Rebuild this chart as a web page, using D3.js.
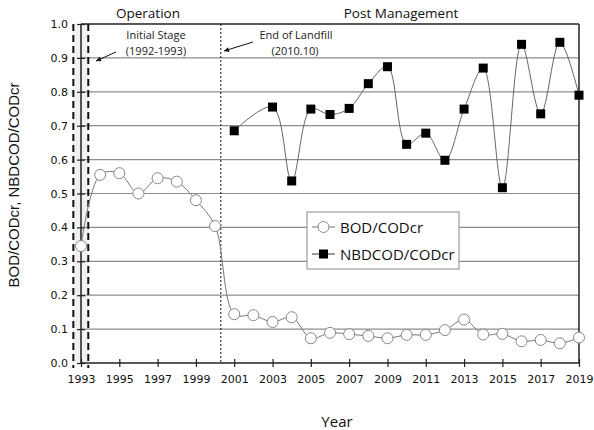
<!DOCTYPE html>
<html><head><meta charset="utf-8">
<script src="https://cdn.jsdelivr.net/npm/d3@7"></script>
<style>body{margin:0;background:#fff}svg{display:block}</style>
</head><body><svg id="c" width="594" height="430"></svg>
<script>
const bodYears = d3.range(1993, 2020);
const bodValues = [0.345,0.555,0.560,0.500,0.545,0.535,0.480,0.404,0.144,0.141,0.121,0.135,0.073,0.089,0.085,0.080,0.073,0.083,0.083,0.097,0.128,0.084,0.086,0.064,0.068,0.058,0.075];
const nbdYears = [2001,2003,2004,2005,2006,2007,2008,2009,2010,2011,2012,2013,2014,2015,2016,2017,2018,2019];
const nbdValues = [0.685,0.755,0.537,0.749,0.733,0.751,0.824,0.874,0.645,0.678,0.598,0.749,0.870,0.517,0.940,0.735,0.946,0.790];
const xTicks = d3.range(1993, 2020, 2);
const yTicks = d3.range(0, 11).map(d => d / 10);
const initialStage = [1992.6, 1993.38];
const endLandfill = 2000.3;

const svg = d3.select("#c");
const x = d3.scaleLinear().domain([1993, 2019]).range([81, 579]);
const y = d3.scaleLinear().domain([0, 1]).range([363, 24]);
const tickFont = "'DejaVu Sans', sans-serif";
const textFont = "'Open Sans', sans-serif";

// shaded initial stage
svg.append("rect").attr("x", x(initialStage[0])).attr("y", y(1)).attr("width", x(initialStage[1]) - x(initialStage[0])).attr("height", y(0) - y(1)).attr("fill", "#f1f1f1");

// gridlines
svg.append("g").selectAll("line").data(yTicks.filter(d => d > 0 && d < 1)).join("line")
  .attr("x1", x(1993)).attr("x2", x(2019)).attr("y1", d => y(d)).attr("y2", d => y(d))
  .attr("stroke", "#8c8c8c").attr("stroke-width", 1.2);

// frame top & right
svg.append("line").attr("x1", x(1993)).attr("x2", x(2019)).attr("y1", y(1)).attr("y2", y(1)).attr("stroke", "#222").attr("stroke-width", 1.5);
svg.append("line").attr("x1", x(2019)).attr("x2", x(2019)).attr("y1", y(1)).attr("y2", y(0)).attr("stroke", "#222").attr("stroke-width", 1.5);

// axes
const xAxis = svg.append("g").attr("transform", `translate(0,${y(0)})`)
  .call(d3.axisBottom(x).tickValues(xTicks).tickFormat(d3.format("d")).tickSize(4).tickPadding(8));
xAxis.selectAll(".tick line").attr("y1", -4).attr("y2", 4);
const yAxis = svg.append("g").attr("transform", `translate(${x(1993)},0)`)
  .call(d3.axisLeft(y).tickValues(yTicks).tickFormat(d3.format(".1f")).tickSize(4).tickPadding(9));
yAxis.selectAll(".tick line").attr("x1", -4).attr("x2", 4);
[xAxis, yAxis].forEach(a => {
  a.select(".domain").attr("stroke", "#222").attr("stroke-width", 1.5);
  a.selectAll(".tick line").attr("stroke", "#222").attr("stroke-width", 1.2);
  a.selectAll("text").attr("font-family", tickFont).attr("font-size", 11).attr("fill", "#111");
});
yAxis.select(".domain").attr("d", `M0,${y(1)}V${y(0)}`);
xAxis.select(".domain").attr("d", `M0,0H${x(2019) - x(1993)}`).attr("transform", `translate(${x(1993)},0)`);

// initial stage dashed lines
svg.append("g").selectAll("line").data(initialStage).join("line")
  .attr("x1", d => x(d)).attr("x2", d => x(d)).attr("y1", y(1)).attr("y2", y(0) + 5)
  .attr("stroke", "#111").attr("stroke-width", 2).attr("stroke-dasharray", "7,4");
// end of landfill dotted line
svg.append("line").attr("x1", x(endLandfill)).attr("x2", x(endLandfill)).attr("y1", y(1)).attr("y2", y(0))
  .attr("stroke", "#111").attr("stroke-width", 1).attr("stroke-dasharray", "2,2");

// arrows
const defs = svg.append("defs");
defs.append("marker").attr("id", "ah").attr("viewBox", "0 0 10 10").attr("refX", 10).attr("refY", 5)
  .attr("markerWidth", 7).attr("markerHeight", 5).attr("orient", "auto")
  .append("path").attr("d", "M0,0L10,5L0,10z").attr("fill", "#111");
svg.append("line").attr("x1", 116).attr("y1", 52).attr("x2", 96).attr("y2", 61).attr("stroke", "#111").attr("stroke-width", 1).attr("marker-end", "url(#ah)");
svg.append("line").attr("x1", 253).attr("y1", 42).attr("x2", 224).attr("y2", 51).attr("stroke", "#111").attr("stroke-width", 1).attr("marker-end", "url(#ah)");

// annotation texts
const ann = [
  ["Initial Stage", 156, 39], ["(1992-1993)", 156, 55],
  ["End of Landfill", 296, 39], ["(2010.10)", 295, 55]
];
svg.append("g").selectAll("text").data(ann).join("text")
  .attr("x", d => d[1]).attr("y", d => d[2]).attr("text-anchor", "middle")
  .attr("font-family", textFont).attr("font-size", 11).attr("fill", "#222").text(d => d[0]);
svg.append("text").attr("x", 148).attr("y", 18).attr("text-anchor", "middle").attr("font-family", textFont).attr("font-size", 13.5).attr("fill", "#111").text("Operation");
svg.append("text").attr("x", 401).attr("y", 18).attr("text-anchor", "middle").attr("font-family", textFont).attr("font-size", 13.5).attr("fill", "#111").text("Post Management");
svg.append("text").attr("x", 337).attr("y", 427).attr("text-anchor", "middle").attr("font-family", textFont).attr("font-size", 15).attr("fill", "#111").text("Year");
svg.append("text").attr("transform", "translate(19,185) rotate(-90)").attr("text-anchor", "middle").attr("font-family", "'Liberation Sans', Arial, sans-serif").attr("font-size", 15).attr("fill", "#111").text("BOD/CODcr, NBDCOD/CODcr");

// series
const curve = d3.curveCatmullRom.alpha(0.5);
const bod = bodYears.map((yr, i) => [yr, bodValues[i]]);
const nbd = nbdYears.map((yr, i) => [yr, nbdValues[i]]);
const line = d3.line().x(d => x(d[0])).y(d => y(d[1])).curve(curve);
svg.append("path").datum(bod).attr("d", line).attr("fill", "none").attr("stroke", "#777").attr("stroke-width", 1);
svg.append("path").datum(nbd).attr("d", line).attr("fill", "none").attr("stroke", "#666").attr("stroke-width", 1);
svg.append("g").selectAll("circle").data(bod).join("circle")
  .attr("cx", d => x(d[0])).attr("cy", d => y(d[1])).attr("r", 5.5)
  .attr("fill", "#fff").attr("stroke", "#888").attr("stroke-width", 1);
const sq = 9;
svg.append("g").selectAll("rect").data(nbd).join("rect")
  .attr("x", d => x(d[0]) - sq / 2).attr("y", d => y(d[1]) - sq / 2).attr("width", sq).attr("height", sq)
  .attr("fill", "#000");

// legend
const lg = svg.append("g");
lg.append("rect").attr("x", 307).attr("y", 212).attr("width", 152).attr("height", 57).attr("fill", "#fff").attr("stroke", "#888").attr("stroke-width", 1);
const lgItems = [["BOD/CODcr", 227, "c"], ["NBDCOD/CODcr", 254, "s"]];
lgItems.forEach(([t, ly, m]) => {
  lg.append("line").attr("x1", 312).attr("x2", 335).attr("y1", ly).attr("y2", ly).attr("stroke", m === "c" ? "#777" : "#333").attr("stroke-width", 1);
  if (m === "c") lg.append("circle").attr("cx", 323.5).attr("cy", ly).attr("r", 5.5).attr("fill", "#fff").attr("stroke", "#888");
  else lg.append("rect").attr("x", 319).attr("y", ly - 4.5).attr("width", 9).attr("height", 9).attr("fill", "#000");
  lg.append("text").attr("x", 340).attr("y", ly + 5.5).attr("font-family", textFont).attr("font-size", 15).attr("fill", "#111").text(t);
});
</script></body></html>
